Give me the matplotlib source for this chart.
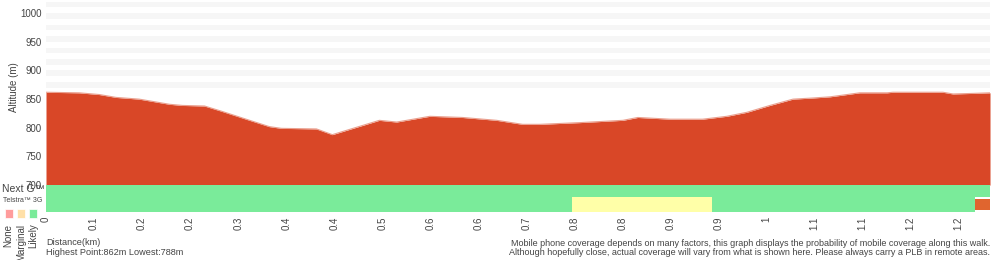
import matplotlib.pyplot as plt
from matplotlib.patches import Rectangle

plt.rcParams['font.family'] = ['Liberation Sans', 'DejaVu Sans']

# elevation profile (position in tick units along the walk, altitude in m)
profile_pos = [0, 0.69, 1.11, 1.46, 1.94, 2.57, 2.84, 3.30, 3.65, 4.24, 4.65, 4.90,
               5.63, 5.96, 6.94, 7.30, 7.99, 8.67, 9.38, 9.92, 10.28, 11.11, 12.01,
               12.32, 12.99, 13.67, 14.17, 14.59, 15.07, 15.55, 15.97, 16.32, 16.94,
               17.51, 17.63, 17.99, 18.67, 18.88, 19.30, 19.65]
profile_alt = [862, 861, 858, 853, 850, 841, 839, 838, 829, 813, 802, 799,
               798, 788, 813, 810, 820, 818, 813, 806, 806, 809, 813,
               818, 815, 815, 820, 827, 839, 850, 852, 854, 861,
               861, 862, 862, 862, 859, 860, 861]

x_labels = ['0', '0.1', '0.2', '0.2', '0.3', '0.4', '0.4', '0.5', '0.6', '0.6',
            '0.7', '0.8', '0.8', '0.9', '0.9', '1', '1.1', '1.1', '1.2', '1.2']

# coverage segments (start, end, status)
nextg_segments = [(0, 19.65, 'Likely')]
telstra3g_segments = [(0, 10.94, 'Likely'), (10.94, 13.86, 'Marginal'),
                      (13.86, 19.34, 'Likely'), (19.34, 19.65, 'None')]

highest = 862
lowest = 788

cov_colors = {'Likely': '#7aeb9a', 'Marginal': '#ffffa8', 'None': '#e0652f'}
red = '#d94727'
txt = '#444444'

fig = plt.figure(figsize=(10, 2.6), dpi=100)
ax = fig.add_axes([0.046, 0.1846, 0.944, 0.811])
ymin, ymax = 653, 1021
ax.set_xlim(0, 19.65)
ax.set_ylim(ymin, ymax)

# background stripes
for b in range(870, 1020, 20):
    ax.axhspan(b, b + 10, color='#f6f6f6', lw=0, zorder=0)

ax.fill_between(profile_pos, 700, profile_alt, color=red, lw=0, zorder=2)
ax.plot(profile_pos, profile_alt, color='#eaa08f', lw=0.8, zorder=2)

# coverage rows
for s, e, st in nextg_segments:
    ax.add_patch(Rectangle((s, 679), e - s, 21, color=cov_colors[st], lw=0, zorder=3))
for s, e, st in telstra3g_segments:
    if st == 'None':
        ax.add_patch(Rectangle((s, 656), e - s, 20, color=cov_colors[st], lw=0, zorder=3))
    else:
        ax.add_patch(Rectangle((s, ymin), e - s, 679 - ymin, color=cov_colors[st], lw=0, zorder=3))

for sp in ax.spines.values():
    sp.set_visible(False)
ax.set_yticks(range(700, 1001, 50))
ax.set_xticks(range(len(x_labels)))
ax.set_xticklabels(x_labels, rotation=90)
ax.tick_params(axis='both', length=0, labelsize=7, labelcolor=txt, pad=3)
ax.set_ylabel('Altitude (m)', fontsize=7, color=txt)
ax.yaxis.set_label_coords(-0.029, 0.59)

# left legend
fig.text(0.002, 0.272, 'Next G\u2122', fontsize=7.5, color=txt, va='center', ha='left')
fig.text(0.003, 0.228, 'Telstra\u2122 3G', fontsize=5, color=txt, va='center', ha='left')
leg = [('None', '#ff9c9c', 0.0045), ('Marginal', '#ffe0a8', 0.017), ('Likely', '#7aeb9a', 0.029)]
for name, c, x0 in leg:
    fig.patches.append(Rectangle((x0, 0.162), 0.008, 0.035, transform=fig.transFigure,
                                 facecolor=c, edgecolor='#ffffff', lw=0.5))
    fig.text(x0 + 0.004, 0.14, name, rotation=90, fontsize=7, color=txt,
             ha='center', va='top')

fig.text(0.046, 0.068, 'Distance(km)', fontsize=6.6, color=txt, va='center')
fig.text(0.046, 0.030, 'Highest Point:%dm Lowest:%dm' % (highest, lowest),
         fontsize=6.6, color=txt, va='center')
fig.text(0.990, 0.065, 'Mobile phone coverage depends on many factors, this graph displays '
         'the probability of mobile coverage along this walk.', fontsize=6.5, color=txt,
         ha='right', va='center')
fig.text(0.990, 0.027, 'Although hopefully close, actual coverage will vary from what is shown '
         'here. Please always carry a PLB in remote areas.', fontsize=6.5, color=txt,
         ha='right', va='center')

fig.savefig('out.png', dpi=100)
